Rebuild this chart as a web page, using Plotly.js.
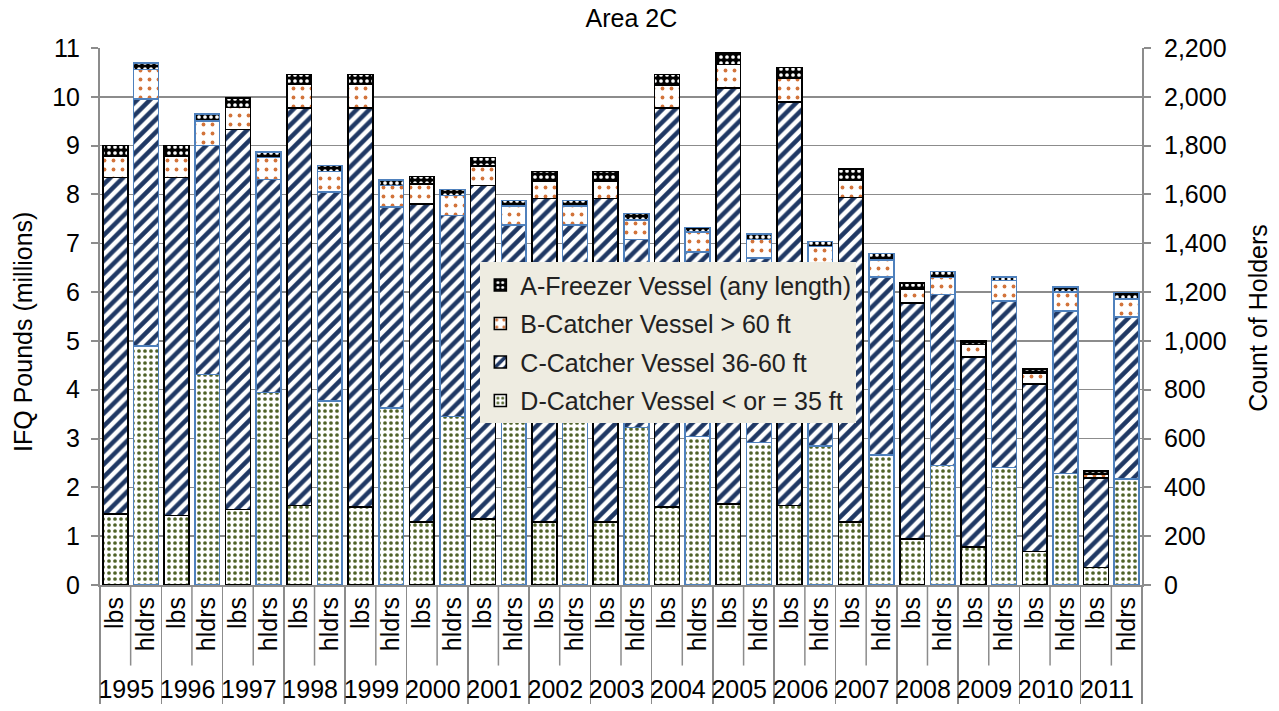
<!DOCTYPE html>
<html><head><meta charset="utf-8">
<script src="https://cdn.plot.ly/plotly-3.0.1.min.js"></script>
<style>html,body{margin:0;padding:0;background:#fff}#chart{width:1279px;height:711px}</style>
</head><body><div id="chart"></div>
<script>
const years = ['1995','1996','1997','1998','1999','2000','2001','2002','2003','2004','2005','2006','2007','2008','2009','2010','2011'];
const kinds = ['lbs','hldrs'];
const seriesNames = ['D-Catcher Vessel < or = 35 ft','C-Catcher Vessel 36-60 ft','B-Catcher Vessel > 60 ft','A-Freezer Vessel (any length)'];

// IFQ pounds (millions)
const D_lbs = [1.46,1.42,1.55,1.63,1.60,1.29,1.35,1.29,1.29,1.60,1.66,1.63,1.29,0.94,0.78,0.69,0.36];
const C_lbs = [6.89,6.93,7.78,8.14,8.17,6.52,6.83,6.63,6.63,8.17,8.52,8.26,6.65,4.84,3.89,3.43,1.83];
const B_lbs = [0.43,0.43,0.45,0.49,0.49,0.40,0.40,0.36,0.36,0.47,0.48,0.50,0.36,0.28,0.26,0.21,0.07];
const A_lbs = [0.22,0.22,0.20,0.20,0.20,0.16,0.18,0.19,0.19,0.22,0.25,0.21,0.22,0.13,0.08,0.09,0.08];

// Count of holders
const D_hldrs = [978,862,788,754,726,690,678,672,646,608,584,570,532,490,482,456,434];
const C_hldrs = [1012,938,874,856,822,824,796,802,770,756,756,744,730,700,682,666,664];
const B_hldrs = [122,102,90,84,88,82,78,78,80,82,76,72,70,70,84,78,74];
const A_hldrs = [26,28,22,24,24,24,24,24,26,18,22,22,26,24,14,22,26];

const xYear = [], xKind = [];
years.forEach(y => kinds.forEach(k => { xYear.push(y); xKind.push(k); }));
function forKind(vals, kind) {
  const out = [];
  vals.forEach(v => { out.push(kind === 'lbs' ? v : null); out.push(kind === 'hldrs' ? v : null); });
  return out;
}

const styles = [
  {bg:'#ffffff', fg:'#4f6228', shape:'.', size:6, solidity:0.3},
  {bg:'#ffffff', fg:'#1f3864', shape:'/', size:9, solidity:0.5},
  {bg:'#ffffff', fg:'#d2733a', shape:'.', size:9, solidity:0.14},
  {bg:'#000000', fg:'#ffffff', shape:'.', size:6, solidity:0.3}
];
const data = {
  lbs: [D_lbs, C_lbs, B_lbs, A_lbs],
  hldrs: [D_hldrs, C_hldrs, B_hldrs, A_hldrs]
};
const groups = ['D','C','B','A'];
const ranks = [4, 3, 2, 1];

const traces = [];
kinds.forEach(kind => {
  data[kind].forEach((vals, i) => {
    const s = styles[i];
    traces.push({
      type: 'bar',
      x: [xYear, xKind],
      y: forKind(vals, kind),
      yaxis: kind === 'lbs' ? 'y' : 'y2',
      name: seriesNames[i],
      legendgroup: groups[i],
      legendrank: ranks[i],
      showlegend: kind === 'lbs',
      hoverinfo: 'y+name',
      marker: {
        color: s.bg,
        line: {color: kind === 'lbs' ? '#000000' : '#4f81bd', width: 1.6},
        pattern: {shape: s.shape, fgcolor: s.fg, bgcolor: s.bg, size: s.size, solidity: s.solidity}
      }
    });
  });
});

const nCat = years.length * kinds.length;
const shapes = years.map((y, k) => ({
  type: 'line', xref: 'paper', yref: 'paper',
  x0: (2 * k + 1) / nCat, x1: (2 * k + 1) / nCat, y0: 0, y1: -0.15,
  line: {color: '#8c8c8c', width: 1.5}
}));

const gridC = '#8c8c8c';
const layout = {
  width: 1279, height: 711,
  margin: {l: 100, r: 137, t: 48, b: 126},
  paper_bgcolor: '#ffffff', plot_bgcolor: '#ffffff',
  font: {family: '"Liberation Sans", Arial, sans-serif', size: 25, color: '#000'},
  title: {text: 'Area 2C', x: 0.51, xref: 'paper', xanchor: 'center', y: 0.975, yanchor: 'middle', font: {size: 25, color: '#000'}},
  barmode: 'stack',
  bargap: 0.19,
  showlegend: true,
  legend: {
    x: 0.365, y: 0.601, xanchor: 'left', yanchor: 'top',
    bgcolor: '#eeece1', borderwidth: 0,
    font: {size: 25, color: '#222'},
    traceorder: 'grouped', tracegroupgap: 3
  },
  xaxis: {
    type: 'multicategory',
    showline: true, linecolor: gridC, linewidth: 2,
    showdividers: true, dividercolor: gridC, dividerwidth: 1.5,
    tickangle: -90, ticks: '',
    tickfont: {size: 25}
  },
  yaxis: {
    range: [0, 11], dtick: 1, tick0: 0,
    showgrid: true, gridcolor: gridC, gridwidth: 1.5,
    showline: true, linecolor: gridC, linewidth: 2,
    ticks: 'outside', ticklen: 7, tickcolor: gridC, tickwidth: 2,
    ticklabelstandoff: 6,
    zeroline: false
  },
  yaxis2: {
    overlaying: 'y', side: 'right',
    range: [0, 2200], dtick: 200, tick0: 0, tickformat: ',d',
    showgrid: false,
    showline: true, linecolor: gridC, linewidth: 2,
    ticks: 'outside', ticklen: 7, tickcolor: gridC, tickwidth: 2,
    ticklabelstandoff: 8,
    zeroline: false
  },
  annotations: [
    {text: 'IFQ Pounds (millions)', textangle: -90, xref: 'paper', yref: 'paper',
     x: -0.074, y: 0.471, xanchor: 'center', yanchor: 'middle', showarrow: false, font: {size: 25}},
    {text: 'Count of Holders', textangle: -90, xref: 'paper', yref: 'paper',
     x: 1.111, y: 0.497, xanchor: 'center', yanchor: 'middle', showarrow: false, font: {size: 25}}
  ],
  shapes: shapes
};

Plotly.newPlot('chart', traces, layout, {displayModeBar: false, staticPlot: true});
</script>
</body></html>
